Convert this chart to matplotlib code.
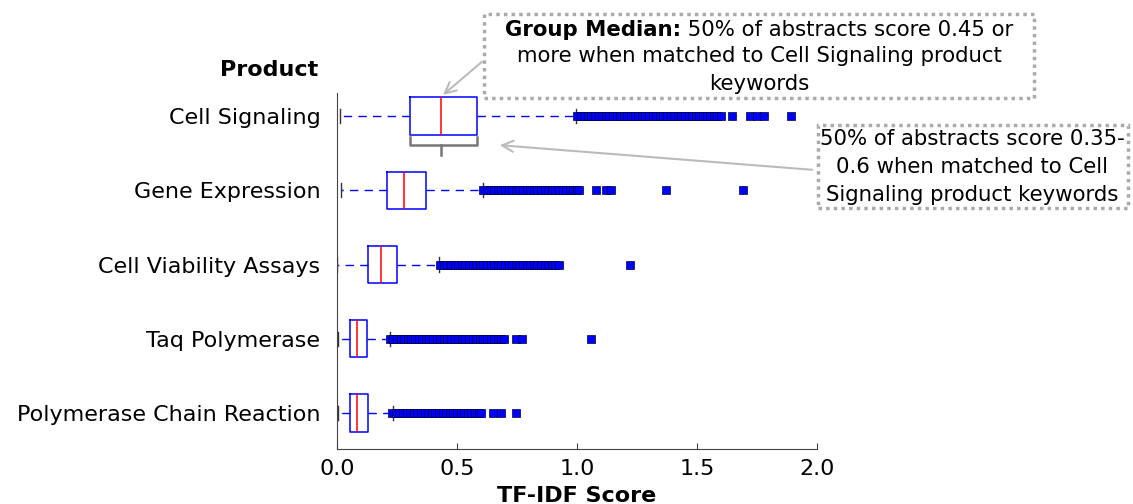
import matplotlib
matplotlib.use("Agg")
from matplotlib import pyplot as plt
from matplotlib.patches import Rectangle

plt.rcParams['font.family'] = ['DejaVu Sans']

# 产品类别（从上到下）
products = ["Cell Signaling", "Gene Expression", "Cell Viability Assays",
            "Taq Polymerase", "Polymerase Chain Reaction"]

# 箱线图统计量
whislo = [0.012, 0.015, 0.002, 0.005, 0.005]
q1 = [0.304, 0.207, 0.128, 0.055, 0.054]
med = [0.433, 0.279, 0.183, 0.082, 0.082]
q3 = [0.582, 0.371, 0.250, 0.124, 0.128]
whishi = [0.996, 0.607, 0.425, 0.221, 0.232]

# 离群点（密集区域逐个读取）
fliers_cs = [1.00, 1.015, 1.03, 1.045, 1.06, 1.075, 1.09, 1.105, 1.12, 1.135, 1.15,
             1.165, 1.18, 1.195, 1.21, 1.225, 1.24, 1.255, 1.27, 1.285, 1.30, 1.315,
             1.33, 1.345, 1.36, 1.375, 1.39, 1.405, 1.42, 1.435, 1.45, 1.465, 1.48,
             1.495, 1.51, 1.525, 1.54, 1.555, 1.57, 1.585, 1.60,
             1.645, 1.72, 1.75, 1.78, 1.89]
fliers_ge = [0.61, 0.625, 0.64, 0.655, 0.67, 0.685, 0.70, 0.715, 0.73, 0.745, 0.76,
             0.775, 0.79, 0.805, 0.82, 0.835, 0.85, 0.865, 0.88, 0.895, 0.91, 0.925,
             0.94, 0.955, 0.97, 0.985, 1.00, 1.01,
             1.08, 1.12, 1.14, 1.37, 1.69]
fliers_cv = [0.43, 0.445, 0.46, 0.475, 0.49, 0.505, 0.52, 0.535, 0.55, 0.565, 0.58,
             0.595, 0.61, 0.625, 0.64, 0.655, 0.67, 0.685, 0.70, 0.715, 0.73, 0.745,
             0.76, 0.775, 0.79, 0.805, 0.82, 0.835, 0.85, 0.865, 0.88, 0.895, 0.91,
             0.925,
             1.22]
fliers_taq = [0.22, 0.235, 0.25, 0.265, 0.28, 0.295, 0.31, 0.325, 0.34, 0.355, 0.37,
              0.385, 0.40, 0.415, 0.43, 0.445, 0.46, 0.475, 0.49, 0.505, 0.52, 0.535,
              0.55, 0.565, 0.58, 0.595, 0.61, 0.625, 0.64, 0.655, 0.67, 0.685, 0.695,
              0.745, 0.77, 1.06]
fliers_pcr = [0.23, 0.245, 0.26, 0.275, 0.29, 0.305, 0.32, 0.335, 0.35, 0.365, 0.38,
              0.395, 0.41, 0.425, 0.44, 0.455, 0.47, 0.485, 0.50, 0.515, 0.53, 0.545,
              0.56, 0.575, 0.59, 0.60,
              0.65, 0.685, 0.745]
fliers = [fliers_cs, fliers_ge, fliers_cv, fliers_taq, fliers_pcr]

xticks = [0.0, 0.5, 1.0, 1.5, 2.0]

W, H = 1133, 504
FS = 16      # 坐标轴文字
AFS = 15.3   # 注释文字


def fig_xy(px, py):
    # 像素坐标 -> figure fraction
    return px / W, 1 - py / H


fig = plt.figure(figsize=(W / 100, H / 100), dpi=100)
ax = fig.add_axes([337 / W, (H - 449) / H, 480 / W, 356 / H])

stats = []
for i in range(len(products)):
    stats.append(dict(label=products[i], whislo=whislo[i], q1=q1[i], med=med[i],
                      q3=q3[i], whishi=whishi[i], fliers=fliers[i]))

positions = list(range(1, len(products) + 1))
ax.bxp(stats, positions=positions, vert=False, widths=0.5, capwidths=0.19,
       boxprops=dict(color="blue", linewidth=1.1),
       medianprops=dict(color="red", linewidth=1.1),
       whiskerprops=dict(color="blue", linestyle=(0, (6, 4.5)), linewidth=1),
       capprops=dict(color="#333333", linewidth=1),
       flierprops=dict(marker="s", markersize=5.5, markerfacecolor="blue",
                       markeredgecolor="#000033", markeredgewidth=0.5, linestyle="none"))

ax.set_xlim(0, 2.0)
ax.set_ylim(5.485, 0.69)
ax.set_xticks(xticks)
ax.set_xticklabels([f"{t:.1f}" for t in xticks])
ax.set_yticks(positions)
ax.set_yticklabels(products)
ax.tick_params(axis="y", length=0, labelsize=FS, pad=12)
ax.tick_params(axis="x", direction="in", length=4, labelsize=FS, pad=7, color="#444444")
ax.spines["top"].set_visible(False)
ax.spines["right"].set_visible(False)
ax.spines["left"].set_color("#444444")
ax.spines["bottom"].set_color("#444444")

ax.set_xlabel("TF-IDF Score", fontsize=FS, fontweight="bold", labelpad=5)
ax.text(-0.04, 1.065, "Product", transform=ax.transAxes, ha="right", va="center",
        fontsize=FS, fontweight="bold")

# 下四分位到上四分位的括号
y0, y1, y2 = 1.283, 1.39, 1.525
ax.plot([q1[0], q1[0], q3[0], q3[0]], [y0, y1, y1, y0], color="#777777", lw=1.8,
        solid_joinstyle="round", clip_on=False)
ax.plot([med[0], med[0]], [y1, y2], color="#777777", lw=1.8)

grey = "#aaaaaa"
renderer = fig.canvas.get_renderer()

# 注释框 1
x0, yb = fig_xy(484, 98)
fig.patches.append(Rectangle((x0, yb), 550 / W, 84 / H, transform=fig.transFigure,
                             fill=False, ec=grey, ls=(0, (1, 1.2)), lw=2.5))
cx = 759
t_bold = fig.text(0, 0, "Group Median:", fontsize=AFS, fontweight="bold")
t_rest = fig.text(0, 0, " 50% of abstracts score 0.45 or", fontsize=AFS)
wb = t_bold.get_window_extent(renderer).width
wr = t_rest.get_window_extent(renderer).width
left = cx - (wb + wr) / 2
t_bold.set_position(fig_xy(left, 30))
t_bold.set_va("center")
t_rest.set_position(fig_xy(left + wb, 30))
t_rest.set_va("center")
tx, ty = fig_xy(cx, 70)
fig.text(tx, ty, "more when matched to Cell Signaling product\nkeywords",
         ha="center", va="center", fontsize=AFS, linespacing=1.5)
ax.annotate("", xy=(med[0], 0.74), xycoords="data",
            xytext=fig_xy(484, 60), textcoords="figure fraction",
            arrowprops=dict(arrowstyle="->,head_length=0.8,head_width=0.4",
                            color="#bbbbbb", lw=1.5), annotation_clip=False)

# 注释框 2
x0, yb = fig_xy(818, 208)
fig.patches.append(Rectangle((x0, yb), 310 / W, 83 / H, transform=fig.transFigure,
                             fill=False, ec=grey, ls=(0, (1, 1.2)), lw=2.5))
tx, ty = fig_xy(972, 167)
fig.text(tx, ty, "50% of abstracts score 0.35-\n0.6 when matched to Cell\n"
         "Signaling product keywords",
         ha="center", va="center", fontsize=AFS, linespacing=1.48)
ax.annotate("", xy=(0.667, 1.39), xycoords="data",
            xytext=fig_xy(815, 170), textcoords="figure fraction",
            arrowprops=dict(arrowstyle="->,head_length=0.8,head_width=0.4",
                            color="#bbbbbb", lw=1.5), annotation_clip=False)

fig.savefig("out.png", dpi=100)
